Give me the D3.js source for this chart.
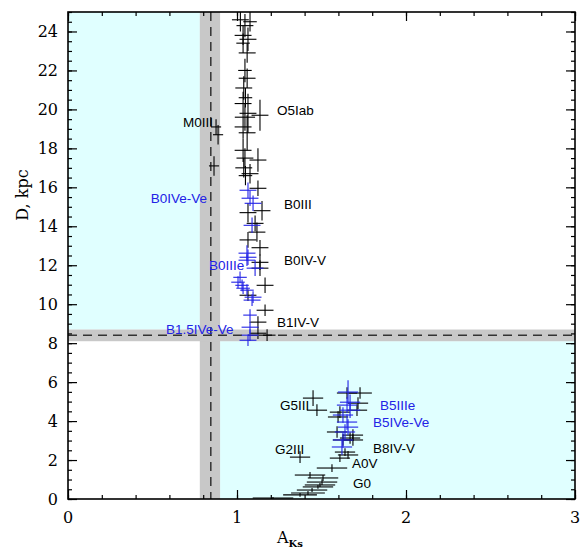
<!DOCTYPE html>
<html>
<head>
<meta charset="utf-8">
<script src="https://cdn.jsdelivr.net/npm/d3@7"></script>
<style>
  body { margin: 0; background: #fff; }
  .tick-label { font-family: "DejaVu Serif", serif; font-size: 16px; }
  .star-label { font-family: "Liberation Sans", Arial, sans-serif; font-size: 13.5px; }
</style>
</head>
<body>
<div id="chart"></div>
<script>
// [A_Ks, D (kpc), error A_Ks, error D]
let blackStars = [
  [1.020, 24.6, 0.05, 0.6], [1.077, 24.5, 0.04, 0.5],
  [1.047, 24.3, 0.05, 0.6], [1.036, 23.8, 0.05, 0.5], [1.065, 23.6, 0.05, 0.6],
  [1.036, 23.4, 0.04, 0.5], [1.060, 22.9, 0.05, 0.5], [1.047, 22.0, 0.04, 0.6],
  [1.060, 21.6, 0.05, 0.5], [1.040, 21.1, 0.05, 0.6], [1.050, 20.6, 0.04, 0.5],
  [1.036, 20.3, 0.05, 0.6], [1.065, 19.8, 0.05, 1.0], [1.136, 19.7, 0.05, 0.8],
  [1.047, 19.6, 0.06, 0.7], [1.036, 19.1, 0.05, 0.6], [1.060, 18.8, 0.05, 0.9],
  [1.036, 17.9, 0.05, 0.6], [1.124, 17.4, 0.05, 0.6], [1.047, 17.5, 0.05, 0.5],
  [1.040, 17.0, 0.05, 0.5], [1.050, 16.6, 0.04, 0.5],
  [0.876, 19.1, 0.03, 0.4], [0.888, 18.7, 0.03, 0.5], [0.864, 17.1, 0.03, 0.5],
  [1.077, 16.7, 0.05, 0.5], [1.124, 15.95, 0.05, 0.4], [1.148, 14.8, 0.05, 0.5],
  [1.065, 14.7, 0.05, 0.5], [1.107, 14.15, 0.05, 0.4], [1.118, 13.7, 0.05, 0.5],
  [1.065, 13.3, 0.05, 0.4], [1.136, 12.9, 0.05, 0.4], [1.136, 12.15, 0.05, 0.4],
  [1.136, 11.85, 0.05, 0.4], [1.166, 10.97, 0.05, 0.4], [1.065, 10.46, 0.05, 0.3],
  [1.166, 9.69, 0.05, 0.3], [1.124, 9.08, 0.05, 0.3], [1.124, 8.51, 0.05, 0.3],
  [1.178, 8.41, 0.05, 0.3],
  [1.728, 5.44, 0.07, 0.3], [1.651, 5.44, 0.06, 0.3], [1.450, 5.18, 0.06, 0.4],
  [1.473, 4.56, 0.06, 0.3], [1.609, 4.46, 0.06, 0.3], [1.598, 4.21, 0.06, 0.3],
  [1.710, 4.56, 0.06, 0.3], [1.716, 4.92, 0.06, 0.3], [1.592, 3.44, 0.06, 0.3],
  [1.686, 3.28, 0.06, 0.3], [1.669, 3.13, 0.06, 0.3], [1.627, 3.03, 0.06, 0.3],
  [1.686, 3.03, 0.06, 0.3], [1.639, 2.41, 0.06, 0.2], [1.657, 2.26, 0.06, 0.2],
  [1.609, 2.10, 0.06, 0.2], [1.373, 2.15, 0.06, 0.3], [1.562, 1.59, 0.09, 0.2],
  [1.432, 1.23, 0.09, 0.15], [1.509, 1.08, 0.09, 0.15], [1.503, 0.87, 0.09, 0.15],
  [1.491, 0.72, 0.09, 0.1], [1.479, 0.62, 0.09, 0.1], [1.444, 0.46, 0.09, 0.1],
  [1.420, 0.31, 0.10, 0.1], [1.373, 0.21, 0.10, 0.1], [1.213, 0.05, 0.12, 0.05]
];

let blueStars = [
  [1.065, 15.85, 0.05, 0.4], [1.077, 15.44, 0.05, 0.4], [1.095, 15.18, 0.05, 0.4],
  [1.089, 14.05, 0.05, 0.4], [1.059, 12.62, 0.05, 0.4], [1.065, 12.41, 0.05, 0.4],
  [1.059, 12.26, 0.05, 0.3], [1.107, 11.85, 0.05, 0.4], [1.018, 11.38, 0.04, 0.3],
  [1.006, 11.13, 0.04, 0.3], [1.030, 10.97, 0.04, 0.3], [1.036, 10.82, 0.04, 0.3],
  [1.059, 10.72, 0.04, 0.3], [1.095, 10.36, 0.05, 0.3], [1.089, 10.21, 0.05, 0.3],
  [1.077, 9.44, 0.04, 0.3], [1.077, 8.82, 0.05, 0.3], [1.077, 8.41, 0.05, 0.3],
  [1.065, 8.15, 0.05, 0.3],
  [1.657, 5.49, 0.06, 0.6], [1.669, 4.97, 0.06, 0.4], [1.651, 4.82, 0.06, 0.4],
  [1.669, 4.56, 0.06, 0.4], [1.627, 4.31, 0.06, 0.4], [1.651, 3.95, 0.06, 0.4],
  [1.657, 3.69, 0.06, 0.4], [1.639, 3.44, 0.06, 0.4], [1.627, 3.03, 0.06, 0.4],
  [1.621, 2.67, 0.06, 0.4]
];

let labelText  = ['O5Iab', 'M0III', 'B0IVe-Ve', 'B0III', 'B0IIIe', 'B0IV-V', 'B1.5IVe-Ve', 'B1IV-V',
                  'G5III', 'B5IIIe', 'B5IVe-Ve', 'G2III', 'B8IV-V', 'A0V', 'G0'];
let labelAk    = [1.237, 0.68, 0.49, 1.278, 0.834, 1.278, 0.58, 1.237,
                  1.254, 1.846, 1.805, 1.225, 1.805, 1.68, 1.686];
let labelD     = [19.7, 19.1, 15.2, 14.9, 11.75, 12.0, 8.46, 8.82,
                  4.56, 4.55, 3.68, 2.31, 2.36, 1.59, 0.56];
let labelBlue  = [false, false, true, false, true, false, true, false,
                  false, true, true, false, false, false, false];

let sunD = [8.1, 8.4, 8.7];       // low, mean, high
let meanAk = [0.78, 0.845, 0.90]; // low, mean, high

let xTicks = [0, 1, 2, 3];
let yTicks = [0, 2, 4, 6, 8, 10, 12, 14, 16, 18, 20, 22, 24];

let margin = {top: 12, right: 9, bottom: 51, left: 68},
    width = 584 - margin.left - margin.right,
    height = 550 - margin.top - margin.bottom;

let blue = '#2222e6';

let svg = d3.select('#chart')
  .append('svg')
  .attr('width', 584)
  .attr('height', 550);

let g = svg.append('g')
  .attr('transform', `translate(${margin.left},${margin.top})`);

let x = d3.scaleLinear().domain([0, 3]).range([0, width]);
let y = d3.scaleLinear().domain([0, 25]).range([height, 0]);

svg.append('defs').append('clipPath').attr('id', 'plot-clip')
  .append('rect').attr('width', width).attr('height', height);

// shaded regions
g.append('rect')
  .attr('x', x(0)).attr('y', y(25))
  .attr('width', x(meanAk[0]) - x(0)).attr('height', y(sunD[2]) - y(25))
  .attr('fill', '#e0ffff');
g.append('rect')
  .attr('x', x(meanAk[2])).attr('y', y(sunD[0]))
  .attr('width', x(3) - x(meanAk[2])).attr('height', y(0) - y(sunD[0]))
  .attr('fill', '#e0ffff');
g.append('rect')
  .attr('x', x(meanAk[0])).attr('y', 0)
  .attr('width', x(meanAk[2]) - x(meanAk[0])).attr('height', height)
  .attr('fill', '#c8c8c8');
g.append('rect')
  .attr('x', 0).attr('y', y(sunD[2]))
  .attr('width', width).attr('height', y(sunD[0]) - y(sunD[2]))
  .attr('fill', '#c8c8c8');

g.append('line')
  .attr('x1', x(meanAk[1])).attr('x2', x(meanAk[1]))
  .attr('y1', 0).attr('y2', height)
  .attr('stroke', '#333').attr('stroke-width', 1.5)
  .attr('stroke-dasharray', '9,6');
g.append('line')
  .attr('x1', 0).attr('x2', width)
  .attr('y1', y(sunD[1])).attr('y2', y(sunD[1]))
  .attr('stroke', '#333').attr('stroke-width', 1.5)
  .attr('stroke-dasharray', '9,6');

// error crosses
let marks = g.append('g').attr('clip-path', 'url(#plot-clip)');

function drawCrosses(data, color) {
  let c = marks.append('g').attr('stroke', color).attr('stroke-width', 1.1);
  c.selectAll('line.h')
    .data(data)
    .enter().append('line')
      .attr('class', 'h')
      .attr('x1', d => x(d[0] - d[2])).attr('x2', d => x(d[0] + d[2]))
      .attr('y1', d => y(d[1])).attr('y2', d => y(d[1]));
  c.selectAll('line.v')
    .data(data)
    .enter().append('line')
      .attr('class', 'v')
      .attr('x1', d => x(d[0])).attr('x2', d => x(d[0]))
      .attr('y1', d => y(d[1] - d[3])).attr('y2', d => y(d[1] + d[3]));
}
drawCrosses(blackStars, '#000');
drawCrosses(blueStars, blue);

// labels
g.selectAll('text.star-label')
  .data(labelText)
  .enter().append('text')
    .attr('class', 'star-label')
    .attr('x', (d, i) => x(labelAk[i]))
    .attr('y', (d, i) => y(labelD[i]))
    .attr('fill', (d, i) => labelBlue[i] ? blue : '#000')
    .text(d => d);

// axes with inward ticks on all sides
let xMinor = d3.range(0, 3.001, 0.2);
let yMinor = d3.range(0, 25.001, 0.5);

let axB = g.append('g').attr('transform', `translate(0,${height})`);
axB.call(d3.axisBottom(x).tickValues(xMinor).tickSize(-4).tickFormat(''));
axB.append('g').call(d3.axisBottom(x).tickValues(xTicks).tickSize(-9).tickFormat(''));
let axT = g.append('g');
axT.call(d3.axisTop(x).tickValues(xMinor).tickSize(-4).tickFormat(''));
axT.append('g').call(d3.axisTop(x).tickValues(xTicks).tickSize(-9).tickFormat(''));
let axL = g.append('g');
axL.call(d3.axisLeft(y).tickValues(yMinor).tickSize(-4).tickFormat(''));
axL.append('g').call(d3.axisLeft(y).tickValues(yTicks).tickSize(-9).tickFormat(''));
let axR = g.append('g').attr('transform', `translate(${width},0)`);
axR.call(d3.axisRight(y).tickValues(yMinor).tickSize(-4).tickFormat(''));
axR.append('g').call(d3.axisRight(y).tickValues(yTicks).tickSize(-9).tickFormat(''));

g.selectAll('.domain').remove();
g.selectAll('.tick line').attr('stroke', '#000').attr('stroke-width', 1.2);

g.append('rect')
  .attr('width', width).attr('height', height)
  .attr('fill', 'none').attr('stroke', '#000').attr('stroke-width', 1.6);

// tick labels
g.selectAll('text.xlab')
  .data(xTicks)
  .enter().append('text')
    .attr('class', 'tick-label')
    .attr('x', d => x(d)).attr('y', height + 24)
    .attr('text-anchor', 'middle')
    .text(d => d);
g.selectAll('text.ylab')
  .data(yTicks)
  .enter().append('text')
    .attr('class', 'tick-label')
    .attr('x', -10).attr('y', d => y(d) + 6)
    .attr('text-anchor', 'end')
    .text(d => d);

// axis titles
svg.append('text')
  .attr('class', 'tick-label')
  .attr('transform', 'translate(28,195) rotate(-90)')
  .attr('text-anchor', 'middle')
  .text('D, kpc');

let xt = svg.append('text')
  .attr('class', 'tick-label')
  .attr('x', 290).attr('y', 543)
  .attr('text-anchor', 'middle');
xt.append('tspan').text('A');
xt.append('tspan').attr('dy', 4).attr('font-size', 10).attr('font-weight', 'bold').text('Ks');
</script>
</body>
</html>
